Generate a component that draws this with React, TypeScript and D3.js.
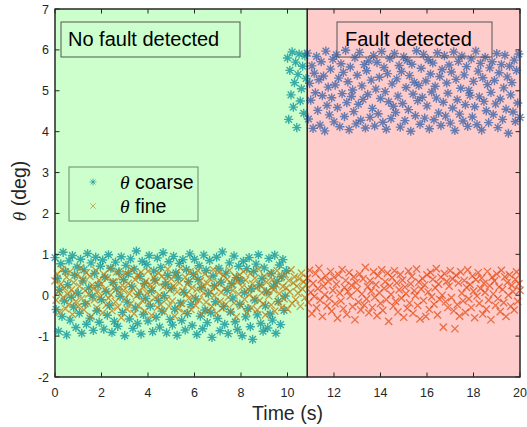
import React from "react";
import * as d3 from "d3";

// sampling step of the recorded signals (s)
const DT = 0.05;
const FAULT_DETECT_TIME = 10.85;

// theta coarse, t = 0 .. 9.95 (no fault)
const coarseNoFault = [
  0.92, -0.35, 0.41, -0.88, 0.13, 0.77, -0.52, 1.05, -0.14, 0.58, -0.97, 0.26, 0.84, -0.61, -0.05, 0.97, -0.29, 0.49, -0.79, 0.69,
  0.05, -0.44, 0.88, -0.93, 0.35, 0.62, -0.21, -0.71, 1.02, 0.18, -0.56, 0.79, -0.02, -0.86, 0.53, 0.93, -0.38, 0.24, -0.66, 0.71,
  -0.11, 0.86, -0.83, 0.44, 0.09, -0.49, 0.99, -0.25, 0.66, -0.91, 0.31, -0.64, 0.81, 0.15, -0.76, 0.57, -0.03, 0.94, -0.42, 0.38,
  -0.99, 0.73, -0.17, 0.52, -0.58, 0.89, 0.21, -0.81, 0.64, -0.31, 1.08, -0.69, 0.02, 0.46, -0.95, 0.83, -0.47, 0.29, -0.08, 0.75,
  -0.63, 0.97, -0.27, 0.11, -0.89, 0.59, 0.37, -0.54, 0.91, -0.13, -0.78, 0.68, -0.39, 1.04, -0.01, 0.27, -0.92, 0.49, 0.82, -0.59,
  0.17, -0.73, 0.95, -0.34, 0.55, -0.98, 0.42, 0.78, -0.19, -0.62, 0.87, 0.07, -0.85, 0.63, -0.45, 0.33, 1.01, -0.23, -0.74, 0.51,
  0.88, -0.09, -0.96, 0.39, 0.72, -0.51, 0.19, -0.82, 0.98, -0.36, 0.61, -0.67, 0.04, 0.85, -0.43, -1.03, 0.47, 0.23, -0.16, 0.93,
  -0.57, 0.66, -0.87, 0.32, 1.06, -0.28, -0.71, 0.54, 0.12, -0.94, 0.79, -0.41, 0.28, -0.07, 0.96, -0.65, 0.43, -0.84, 0.71, -0.22,
  0.36, -0.99, 0.83, 0.06, -0.53, 0.65, -0.33, 0.92, -0.77, 0.16, -1.08, 0.58, -0.12, 0.76, -0.48, 0.99, 0.25, -0.69, 0.41, -0.88,
  0.67, -0.26, 0.08, -0.8, 0.9, -0.46, 0.53, -0.61, 0.22, 0.98, -0.93, 0.34, -0.15, 0.74, -0.72, 0.45, 0.87, -0.37, -0.02, 0.6,
];

// theta coarse, t = 10.00 .. 10.80 (fault present, not yet detected)
const coarseUndetected = [5.8, 4.3, 5.5, 4.9, 5.95, 4.6, 5.2, 5.7, 4.1, 5.4, 5.9, 4.75, 5.05, 5.6, 4.45, 5.85, 5.3];

// theta coarse, t = 10.85 .. 20 (fault detected)
const coarseFault = [
  5.92, 4.31, 5.18, 4.77, 5.61, 4.08, 5.43, 4.95, 5.84, 4.52, 5.27, 4.16, 5.71, 4.88, 5.36, 4.02, 5.97, 4.64, 5.09, 4.41,
  5.53, 4.83, 5.77, 4.24, 5.14, 5.88, 4.59, 5.31, 4.12, 5.66, 4.93, 5.45, 4.37, 5.99, 4.71, 5.22, 4.05, 5.58, 4.86, 5.02,
  4.49, 5.81, 4.19, 5.38, 4.67, 5.94, 4.28, 5.12, 4.79, 5.64, 4.09, 5.49, 4.91, 5.73, 4.35, 5.26, 4.57, 5.86, 4.14, 5.04,
  5.69, 4.44, 5.33, 4.81, 5.96, 4.23, 5.57, 4.98, 4.06, 5.42, 4.73, 5.79, 4.32, 5.17, 4.62, 5.91, 4.47, 5.29, 4.87, 5.62,
  4.11, 5.47, 4.69, 5.83, 4.27, 5.08, 5.74, 4.54, 5.37, 4.01, 5.65, 4.92, 5.21, 4.39, 5.98, 4.76, 5.13, 4.18, 5.55, 4.84,
  5.89, 4.33, 5.24, 4.63, 5.76, 4.07, 5.41, 4.97, 5.68, 4.29, 5.11, 4.82, 5.93, 4.46, 5.35, 4.15, 5.52, 4.72, 5.86, 4.38,
  5.19, 4.94, 5.63, 4.21, 5.46, 4.58, 5.95, 4.03, 5.28, 4.78, 5.72, 4.43, 5.06, 5.85, 4.26, 5.39, 4.66, 5.59, 4.13, 5.01,
  4.89, 5.78, 4.36, 5.23, 4.61, 5.97, 4.17, 5.48, 4.85, 5.67, 4.04, 5.32, 4.74, 5.82, 4.51, 5.15, 4.22, 5.56, 4.96, 5.71,
  4.42, 5.25, 4.68, 5.91, 4.1, 5.44, 4.8, 5.64, 4.3, 5.07, 5.87, 4.55, 5.34, 3.96, 5.6, 4.9, 5.2, 4.48, 5.75, 4.25,
  5.5, 4.7, 5.9, 4.35,
];

// theta fine, t = 0 .. 10.80
const fineNoFault = [
  0.35, -0.12, 0.52, 0.08, -0.41, 0.27, 0.63, -0.05, 0.18, -0.33, 0.44, 0.02, -0.22, 0.58, 0.13, -0.47, 0.31, 0.06, -0.15, 0.49,
  -0.28, 0.22, 0.67, -0.08, 0.39, -0.36, 0.11, 0.55, -0.19, 0.03, 0.46, -0.52, 0.25, 0.16, -0.11, 0.61, -0.31, 0.09, 0.37, -0.04,
  0.28, -0.43, 0.51, 0.14, -0.24, 0.42, -0.07, 0.65, 0.01, -0.38, 0.33, 0.19, -0.16, 0.57, -0.29, 0.07, 0.45, -0.55, 0.24, 0.12,
  -0.09, 0.53, -0.34, 0.29, 0.04, -0.21, 0.62, 0.17, -0.45, 0.38, -0.02, 0.48, -0.26, 0.1, 0.56, -0.13, 0.21, -0.39, 0.34, 0.05,
  0.59, -0.18, 0.26, -0.49, 0.15, 0.43, -0.06, 0.32, -0.3, 0.54, 0.0, -0.23, 0.47, 0.2, -0.41, 0.36, -0.1, 0.64, -0.27, 0.13,
  0.4, -0.14, 0.23, -0.51, 0.5, 0.08, -0.33, 0.3, 0.66, -0.2, 0.11, -0.42, 0.44, 0.02, 0.27, -0.08, 0.57, -0.35, 0.18, -0.03,
  0.46, -0.25, 0.14, 0.6, -0.12, 0.35, -0.46, 0.22, 0.05, 0.52, -0.17, 0.29, -0.37, 0.41, 0.09, -0.28, 0.63, -0.01, 0.19, -0.44,
  0.31, 0.56, -0.15, 0.07, -0.32, 0.48, 0.16, -0.22, 0.39, -0.05, 0.61, -0.4, 0.25, 0.12, -0.19, 0.45, -0.53, 0.34, 0.03, 0.5,
  -0.26, 0.2, 0.58, -0.1, 0.37, -0.43, 0.15, 0.01, 0.53, -0.31, 0.28, -0.07, 0.42, 0.17, -0.36, 0.64, -0.13, 0.24, 0.06, -0.21,
  0.47, -0.48, 0.32, 0.1, -0.02, 0.55, -0.24, 0.38, 0.13, -0.39, 0.26, 0.6, -0.16, 0.04, 0.43, -0.3, 0.21, -0.09, 0.51, 0.18,
  -0.34, 0.36, 0.08, 0.62, -0.2, 0.3, 0.45, -0.11, 0.22, 0.05, 0.4, -0.27, 0.54, 0.15, 0.33, -0.06, 0.26,
];

// theta fine, t = 10.85 .. 20
const fineFault = [
  0.42, -0.18, 0.61, 0.07, -0.45, 0.29, -0.03, 0.53, -0.31, 0.16, 0.66, -0.12, 0.38, -0.52, 0.22, 0.01, 0.47, -0.26, 0.34, -0.08,
  0.58, -0.39, 0.12, 0.44, -0.21, 0.27, -0.56, 0.5, 0.05, -0.14, 0.63, -0.33, 0.19, 0.36, -0.47, 0.09, 0.55, -0.02, 0.24, -0.28,
  0.45, -0.6, 0.31, 0.14, -0.17, 0.52, -0.36, 0.03, 0.4, -0.24, 0.68, -0.09, 0.21, -0.43, 0.35, 0.1, -0.3, 0.57, -0.05, 0.26,
  -0.5, 0.48, 0.06, -0.2, 0.62, -0.37, 0.17, 0.33, -0.11, 0.54, -0.64, 0.23, 0.02, 0.43, -0.27, 0.6, -0.15, 0.3, -0.41, 0.13,
  0.51, -0.07, 0.37, -0.54, 0.2, 0.04, -0.32, 0.59, -0.19, 0.28, 0.46, -0.44, 0.11, -0.01, 0.64, -0.25, 0.32, -0.58, 0.15, 0.41,
  -0.13, 0.25, -0.52, 0.5, 0.08, -0.35, 0.56, -0.04, 0.39, -0.22, 0.18, 0.65, -0.48, 0.27, -0.1, 0.44, 0.0, -0.78, 0.53, -0.16,
  0.34, -0.3, 0.22, 0.6, -0.06, 0.4, -0.38, -0.82, 0.49, -0.23, 0.3, -0.51, 0.57, 0.05, -0.14, 0.36, -0.42, 0.19, 0.62, -0.09,
  0.26, -0.3, 0.47, 0.1, -0.55, 0.38, -0.02, 0.55, -0.2, 0.16, 0.42, -0.46, 0.29, 0.07, -0.34, 0.58, -0.12, 0.23, -0.6, 0.44,
  0.03, 0.35, -0.25, 0.52, -0.08, 0.2, -0.4, 0.61, 0.14, -0.18, 0.45, -0.52, 0.31, 0.0, 0.5, -0.27, 0.24, 0.09, -0.36, 0.39,
  0.57, -0.15, 0.28, 0.12,
];

const xTicks = [0, 2, 4, 6, 8, 10, 12, 14, 16, 18, 20];
const yTicks = [-2, -1, 0, 1, 2, 3, 4, 5, 6, 7];

const W = 527;
const H = 427;
const FONT = "'Liberation Sans', Arial, sans-serif";
const SERIF = "'Liberation Serif', 'Times New Roman', serif";

const C_TEAL = "#008b97";
const C_BROWN = "#bf750c";
const C_BLUE = "#2d5ca4";
const C_RED = "#e0470e";

const STAR = "M-4.6,0H4.6M0,-4.6V4.6M-3.3,-3.3L3.3,3.3M-3.3,3.3L3.3,-3.3";
const CROSS = "M-3.6,-3.6L3.6,3.6M-3.6,3.6L3.6,-3.6";

const toPoints = (vals: number[], startIdx: number) =>
  vals.map((v, i) => ({ t: (startIdx + i) * DT, v }));

export default function App() {
  const x = d3.scaleLinear().domain([0, 20]).range([55, 520]);
  const y = d3.scaleLinear().domain([-2, 7]).range([377, 9]);

  const n1 = coarseNoFault.length + coarseUndetected.length;

  const coarseGreen = toPoints(coarseNoFault.concat(coarseUndetected), 0);
  const coarseRed = toPoints(coarseFault, n1);
  const fineGreen = toPoints(fineNoFault, 0);
  const fineRed = toPoints(fineFault, fineNoFault.length);

  const xf = x(FAULT_DETECT_TIME);
  const [y0, y1] = y.range();

  const marks = (pts: { t: number; v: number }[], shape: string, color: string, sw: number, key: string) =>
    pts.map((p, i) => (
      <path
        key={key + i}
        d={shape}
        transform={`translate(${x(p.t)},${y(p.v)})`}
        stroke={color}
        strokeWidth={sw}
        strokeOpacity={0.72}
        fill="none"
      />
    ));

  return (
    <svg
      width={W}
      height={H}
      style={{ position: "absolute", left: 0, top: 0, background: "#fff" }}
      fontFamily={FONT}
    >
      {/* background regions */}
      <rect x={x(0)} y={y1} width={xf - x(0)} height={y0 - y1} fill="#ccffcc" stroke="#262626" />
      <rect x={xf} y={y1} width={x(20) - xf} height={y0 - y1} fill="#ffcccc" stroke="#262626" />

      {marks(coarseGreen, STAR, C_TEAL, 1.4, "cg")}
      {marks(coarseRed, STAR, C_BLUE, 1.4, "cr")}
      {marks(fineGreen, CROSS, C_BROWN, 1.3, "fg")}
      {marks(fineRed, CROSS, C_RED, 1.3, "fr")}

      {/* axes frame */}
      <rect x={x(0)} y={y1} width={x(20) - x(0)} height={y0 - y1} fill="none" stroke="#262626" />
      <line x1={xf} x2={xf} y1={y1} y2={y0} stroke="#1a1a1a" />

      {xTicks.map((t) => (
        <g key={"xt" + t}>
          <line x1={x(t)} x2={x(t)} y1={y0} y2={y0 - 4.5} stroke="#262626" />
          <line x1={x(t)} x2={x(t)} y1={y1} y2={y1 + 4.5} stroke="#262626" />
          <text x={x(t)} y={y0 + 20} textAnchor="middle" fontSize={12.5} fill="#262626">
            {t}
          </text>
        </g>
      ))}
      {yTicks.map((t) => (
        <g key={"yt" + t}>
          <line x1={x(0)} x2={x(0) + 4.5} y1={y(t)} y2={y(t)} stroke="#262626" />
          <line x1={x(20)} x2={x(20) - 4.5} y1={y(t)} y2={y(t)} stroke="#262626" />
          <text x={x(0) - 6} y={y(t) + 4.5} textAnchor="end" fontSize={12.5} fill="#262626">
            {t}
          </text>
        </g>
      ))}

      {/* axis labels */}
      <text x={(x(0) + x(20)) / 2} y={420} textAnchor="middle" fontSize={19.5} fill="#262626">
        Time (s)
      </text>
      <text transform={`translate(26,${(y0 + y1) / 2 - 2}) rotate(-90)`} textAnchor="middle" fontSize={19.5} fill="#262626">
        <tspan fontFamily={SERIF} fontStyle="italic">θ</tspan> (deg)
      </text>

      {/* annotation boxes */}
      <rect x={61} y={22} width={179} height={35} fill="none" stroke="#555" />
      <text x={68} y={46} fontSize={20} fill="#000">No fault detected</text>
      <rect x={337} y={22} width={155} height={35} fill="none" stroke="#555" />
      <text x={345} y={46} fontSize={20} fill="#000">Fault detected</text>

      {/* legend */}
      <rect x={69} y={167} width={129} height={54} fill="none" stroke="#6a8a6a" />
      <path d={STAR} transform="translate(93,182) scale(0.75)" stroke={C_TEAL} fill="none" strokeOpacity={0.8} />
      <path d={CROSS} transform="translate(93,206) scale(0.75)" stroke={C_BROWN} fill="none" strokeOpacity={0.8} />
      <text x={120} y={189} fontSize={19.5} fill="#000">
        <tspan fontFamily={SERIF} fontStyle="italic">θ</tspan> coarse
      </text>
      <text x={120} y={213} fontSize={19.5} fill="#000">
        <tspan fontFamily={SERIF} fontStyle="italic">θ</tspan> fine
      </text>
    </svg>
  );
}
